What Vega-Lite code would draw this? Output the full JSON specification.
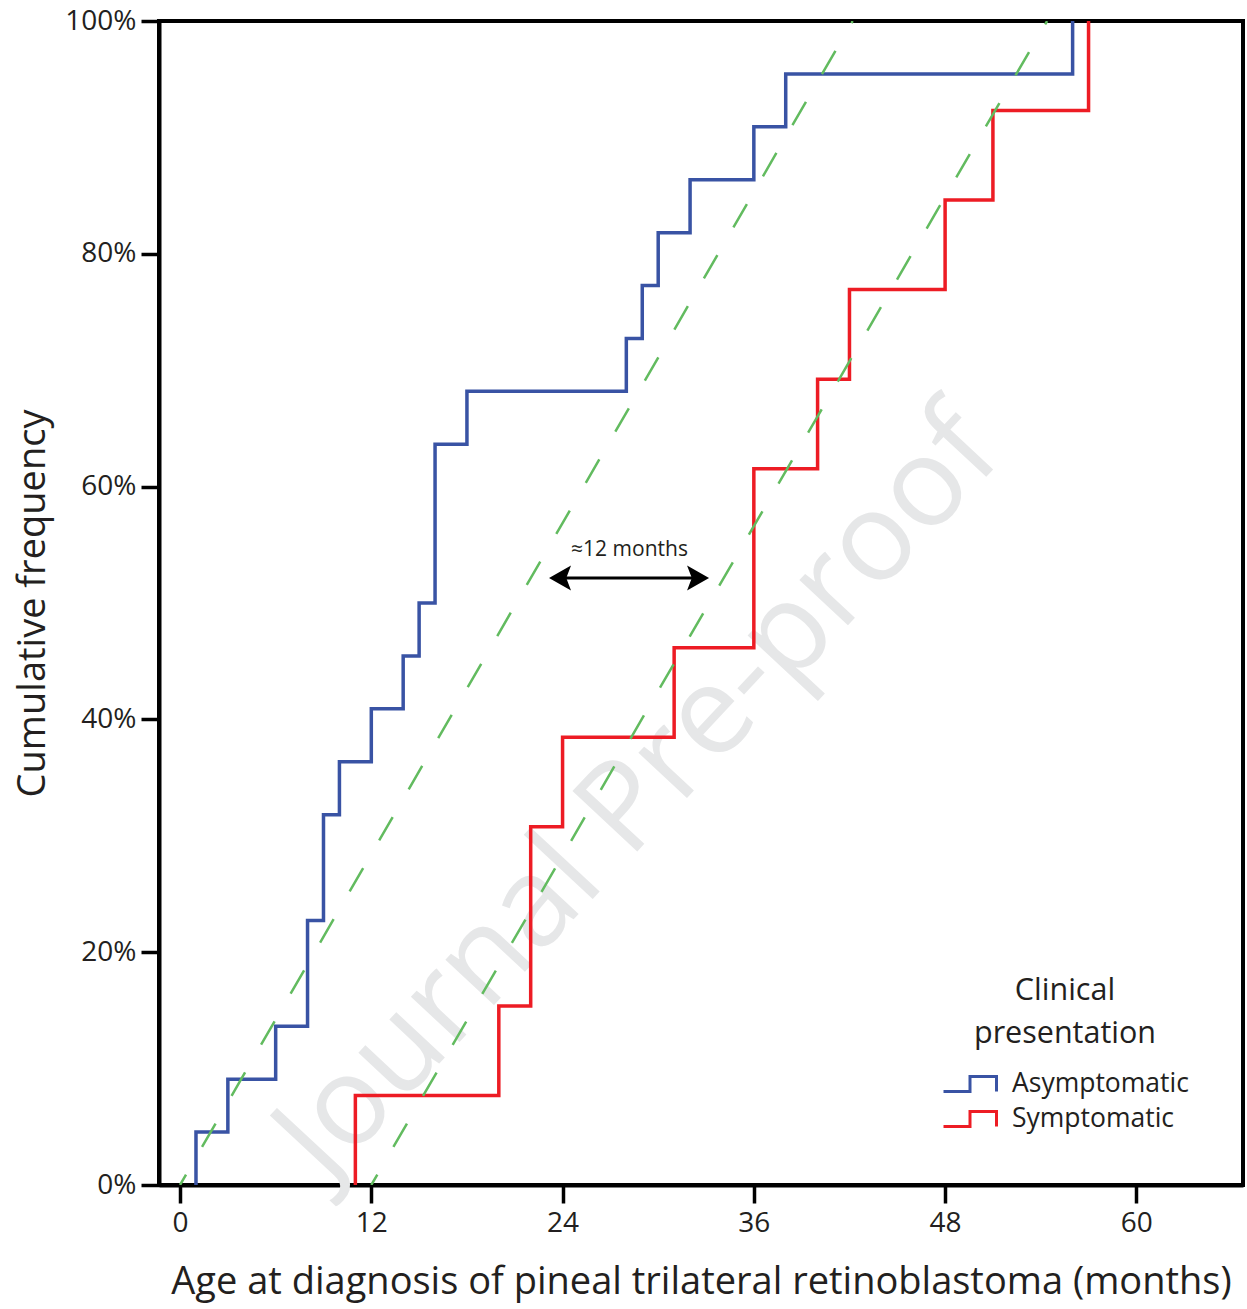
{
  "$schema": "https://vega.github.io/schema/vega-lite/v6.json",
  "width": 1084,
  "height": 1164,
  "autosize": "none",
  "padding": {"left": 159, "top": 21, "right": 4, "bottom": 124},
  "background": "white",
  "config": {
    "font": "Open Sans",
    "view": {"stroke": "black", "strokeWidth": 4},
    "axis": {
      "grid": false,
      "domainColor": "black",
      "domainWidth": 4,
      "tickColor": "black",
      "tickWidth": 3.5,
      "tickSize": 18,
      "labelFontSize": 28,
      "labelColor": "#231f20",
      "titleFontSize": 38,
      "titleFontWeight": "normal",
      "titleColor": "#231f20"
    }
  },
  "datasets": {
    "steps": [
      {"group": "Asymptomatic", "month": 1, "pct": 0},
      {"group": "Asymptomatic", "month": 1, "pct": 4.545},
      {"group": "Asymptomatic", "month": 3, "pct": 9.091},
      {"group": "Asymptomatic", "month": 6, "pct": 13.636},
      {"group": "Asymptomatic", "month": 8, "pct": 22.727},
      {"group": "Asymptomatic", "month": 9, "pct": 31.818},
      {"group": "Asymptomatic", "month": 10, "pct": 36.364},
      {"group": "Asymptomatic", "month": 12, "pct": 40.909},
      {"group": "Asymptomatic", "month": 14, "pct": 45.455},
      {"group": "Asymptomatic", "month": 15, "pct": 50},
      {"group": "Asymptomatic", "month": 16, "pct": 63.636},
      {"group": "Asymptomatic", "month": 18, "pct": 68.182},
      {"group": "Asymptomatic", "month": 28, "pct": 72.727},
      {"group": "Asymptomatic", "month": 29, "pct": 77.273},
      {"group": "Asymptomatic", "month": 30, "pct": 81.818},
      {"group": "Asymptomatic", "month": 32, "pct": 86.364},
      {"group": "Asymptomatic", "month": 36, "pct": 90.909},
      {"group": "Asymptomatic", "month": 38, "pct": 95.455},
      {"group": "Asymptomatic", "month": 56, "pct": 100},
      {"group": "Symptomatic", "month": 11, "pct": 0},
      {"group": "Symptomatic", "month": 11, "pct": 7.692},
      {"group": "Symptomatic", "month": 20, "pct": 15.385},
      {"group": "Symptomatic", "month": 22, "pct": 30.769},
      {"group": "Symptomatic", "month": 24, "pct": 38.462},
      {"group": "Symptomatic", "month": 31, "pct": 46.154},
      {"group": "Symptomatic", "month": 36, "pct": 61.538},
      {"group": "Symptomatic", "month": 40, "pct": 69.231},
      {"group": "Symptomatic", "month": 42, "pct": 76.923},
      {"group": "Symptomatic", "month": 48, "pct": 84.615},
      {"group": "Symptomatic", "month": 51, "pct": 92.308},
      {"group": "Symptomatic", "month": 57, "pct": 100}
    ],
    "guides": [
      {"line": "A", "month": 0, "pct": 0},
      {"line": "A", "month": 42.2, "pct": 100},
      {"line": "B", "month": 12, "pct": 0},
      {"line": "B", "month": 54.4, "pct": 100}
    ],
    "arrow": [{"month": 23.6, "month2": 32.75, "pct": 52.15}],
    "headLeft": [{"month": 23.84, "pct": 52.15}],
    "headRight": [{"month": 32.5, "pct": 52.15}],
    "label": [{"month": 28.2, "pct": 54.55, "text": "≈12 months"}],
    "watermark": [{"month": 28.8, "pct": 33.5, "text": "Journal Pre-proof"}]
  },
  "encoding": {
    "x": {
      "field": "month",
      "type": "quantitative",
      "scale": {"domain": [-1.32, 66.69], "nice": false, "zero": false},
      "axis": {
        "values": [0, 12, 24, 36, 48, 60],
        "title": "Age at diagnosis of pineal trilateral retinoblastoma (months)",
        "labelPadding": 6,
        "titlePadding": 26
      }
    },
    "y": {
      "field": "pct",
      "type": "quantitative",
      "scale": {"domain": [0, 100], "nice": false},
      "axis": {
        "values": [0, 20, 40, 60, 80, 100],
        "labelExpr": "datum.value + '%'",
        "title": "Cumulative frequency",
        "labelPadding": 5,
        "titlePadding": 12
      }
    }
  },
  "layer": [
    {
      "data": {"name": "watermark"},
      "mark": {"type": "text", "fontSize": 124, "angle": -47, "color": "#e6e7e8", "align": "center", "baseline": "middle"},
      "encoding": {"text": {"field": "text", "type": "nominal"}}
    },
    {
      "data": {"name": "steps"},
      "mark": {"type": "line", "interpolate": "step-after", "strokeWidth": 3.5, "clip": true},
      "encoding": {
        "order": {"field": "pct", "type": "quantitative"},
        "color": {
          "field": "group",
          "type": "nominal",
          "scale": {"domain": ["Asymptomatic", "Symptomatic"], "range": ["#3953a4", "#ed1c24"]},
          "legend": {
            "orient": "none",
            "legendX": 783,
            "legendY": 955,
            "title": ["Clinical", "presentation"],
            "titleFontSize": 30.5,
            "titleFontWeight": "normal",
            "titleColor": "#231f20",
            "titleAnchor": "middle",
            "titleAlign": "center",
            "titleLineHeight": 43,
            "titlePadding": 17,
            "titleLimit": 0,
            "labelFontSize": 26.5,
            "labelColor": "#231f20",
            "labelOffset": 14,
            "labelLimit": 0,
            "symbolType": "M-1,0.28L0,0.28L0,-0.28L1,-0.28L1,0.28",
            "symbolSize": 2809,
            "symbolStrokeWidth": 3,
            "symbolFillColor": "transparent",
            "clipHeight": 35,
            "rowPadding": 0
          }
        }
      }
    },
    {
      "data": {"name": "guides"},
      "mark": {"type": "line", "color": "#62bb5f", "strokeWidth": 2.5, "strokeDash": [27, 32], "strokeDashOffset": 15, "clip": true},
      "encoding": {"detail": {"field": "line", "type": "nominal"}}
    },
    {
      "data": {"name": "arrow"},
      "mark": {"type": "rule", "color": "black", "strokeWidth": 3},
      "encoding": {"x2": {"field": "month2"}}
    },
    {
      "data": {"name": "headLeft"},
      "mark": {"type": "point", "shape": "M-0.88,0L0.88,-1L0.5,0L0.88,1Z", "size": 625, "filled": true, "color": "black", "opacity": 1, "strokeWidth": 0}
    },
    {
      "data": {"name": "headRight"},
      "mark": {"type": "point", "shape": "M0.88,0L-0.88,-1L-0.5,0L-0.88,1Z", "size": 625, "filled": true, "color": "black", "opacity": 1, "strokeWidth": 0}
    },
    {
      "data": {"name": "label"},
      "mark": {"type": "text", "fontSize": 21, "color": "#231f20", "align": "center", "baseline": "middle"},
      "encoding": {"text": {"field": "text", "type": "nominal"}}
    }
  ]
}
